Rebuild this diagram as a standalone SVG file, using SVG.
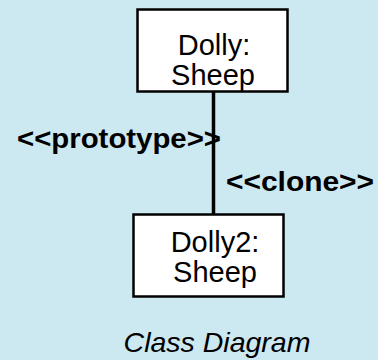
<svg xmlns="http://www.w3.org/2000/svg" width="378" height="360" viewBox="0 0 378 360">
  <style>
    .box { fill: #ffffff; stroke: #000000; stroke-width: 2.5; }
    .name { font-family: "Liberation Sans", Arial, sans-serif; font-size: 29px; fill: #000; text-anchor: middle; }
    .lbl { font-family: "Liberation Sans", Arial, sans-serif; font-size: 28px; font-weight: bold; fill: #000; }
    .title { font-family: "Liberation Sans", Arial, sans-serif; font-size: 28.5px; font-style: italic; fill: #000; text-anchor: middle; }
    .conn { stroke: #000; stroke-width: 3.5; fill: none; }
  </style>
  <rect x="0" y="0" width="378" height="360" fill="#cce8f1"/>
  <g id="connectors">
    <line class="conn" x1="213.5" y1="92" x2="213.5" y2="214"/>
    <text class="lbl" x="17" y="148" textLength="204" lengthAdjust="spacingAndGlyphs">&lt;&lt;prototype&gt;&gt;</text>
    <text class="lbl" x="226" y="191" textLength="148" lengthAdjust="spacingAndGlyphs">&lt;&lt;clone&gt;&gt;</text>
  </g>
  <g id="dolly">
    <rect class="box" x="137.5" y="9.5" width="150" height="82"/>
    <text class="name" x="214" y="55">Dolly:</text>
    <text class="name" x="213" y="84.5">Sheep</text>
  </g>
  <g id="dolly2">
    <rect class="box" x="133.5" y="214.5" width="150" height="82"/>
    <text class="name" x="215" y="252">Dolly2:</text>
    <text class="name" x="215" y="281.5">Sheep</text>
  </g>
  <text class="title" x="217" y="352">Class Diagram</text>
</svg>
